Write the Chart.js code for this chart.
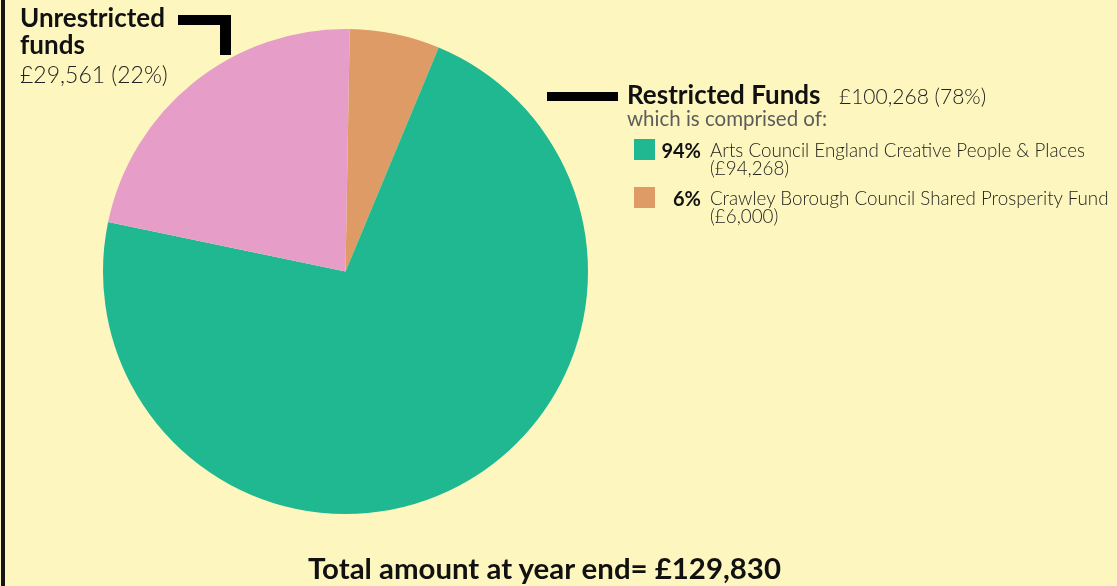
<!DOCTYPE html>
<html>
<head>
<meta charset="utf-8">
<script src="https://cdn.jsdelivr.net/npm/chart.js@4"></script>
<style>
  html, body { margin: 0; padding: 0; }
  body {
    width: 1117px; height: 586px; overflow: hidden; position: relative;
    background: #fdf7bf; font-family: Lato, "Open Sans", sans-serif; color: #111;
  }
  #wrap { position: absolute; left: 0; top: 0; width: 1117px; height: 586px; }
  .abs { position: absolute; white-space: nowrap; }
  .bar { position: absolute; background: #000; }
  .bold { font-weight: 700; }
  .light { font-weight: 300; }
</style>
</head>
<body>
<div id="wrap"><canvas id="pie" width="1117" height="586"></canvas></div>

<!-- left frame line -->
<div class="bar" style="left:1px;top:0;width:4px;height:586px;background:#151515"></div>

<!-- unrestricted label + bracket -->
<div class="abs bold" style="left:20px;top:4px;font-size:26px;line-height:27.3px">Unrestricted<br>funds</div>
<div class="abs light" id="unrestrictedAmt" style="left:20px;top:62.4px;font-size:23px;line-height:24px;color:#222"></div>
<div class="bar" style="left:178px;top:15px;width:53px;height:10px"></div>
<div class="bar" style="left:220px;top:15px;width:11px;height:40px"></div>

<!-- restricted label -->
<div class="bar" style="left:547px;top:92px;width:71px;height:9px"></div>
<div class="abs bold" style="left:627px;top:79px;font-size:26px;line-height:30px">Restricted Funds</div>
<div class="abs light" id="restrictedAmt" style="left:839px;top:81px;font-size:21px;line-height:30px;color:#222"></div>
<div class="abs" style="left:627px;top:106px;font-size:20.5px;line-height:24px;color:#5c5c5c">which is comprised of:</div>
<div id="legendRows"></div>

<!-- total -->
<div class="abs bold" id="totalTxt" style="left:0;width:1089px;text-align:center;top:550.9px;font-size:29.4px;line-height:34px"></div>

<script>
// Pie shares as drawn (clockwise from 12 o'clock)
const sliceLabels = ["Crawley Borough Council Shared Prosperity Fund", "Arts Council England Creative People & Places", "Unrestricted funds"];
const sliceShares = [6, 72, 22];
const sliceColors = ["#de9b66", "#1fb891", "#e69ec8"];

// Restricted breakdown (legend)
const restrictedNames = ["Arts Council England Creative People & Places", "Crawley Borough Council Shared Prosperity Fund"];
const restrictedPct = ["94%", "6%"];
const restrictedAmounts = ["(£94,268)", "(£6,000)"];
const restrictedColors = ["#1fb891", "#de9b66"];

const unrestrictedText = "£29,561 (22%)";
const restrictedText = "£100,268 (78%)";
const totalText = "Total amount at year end= £129,830";

document.getElementById("unrestrictedAmt").textContent = unrestrictedText;
document.getElementById("restrictedAmt").textContent = restrictedText;
document.getElementById("totalTxt").textContent = totalText;

// legend rows
const rowsEl = document.getElementById("legendRows");
restrictedNames.forEach((name, i) => {
  const rowTop = 139 + i * 48;
  const sq = document.createElement("div");
  sq.className = "bar";
  sq.style.cssText = `left:634px;top:${rowTop}px;width:21px;height:21px;background:${restrictedColors[i]}`;
  rowsEl.appendChild(sq);

  const pct = document.createElement("div");
  pct.className = "abs bold";
  pct.style.cssText = `left:640px;width:61px;text-align:right;top:${rowTop - 1}px;font-size:20px;line-height:24px`;
  pct.textContent = restrictedPct[i];
  rowsEl.appendChild(pct);

  const txt = document.createElement("div");
  txt.className = "abs light";
  txt.style.cssText = `left:710px;top:${rowTop + 2.4}px;font-size:18.8px;line-height:18px;color:#222`;
  txt.appendChild(document.createTextNode(name));
  txt.appendChild(document.createElement("br"));
  txt.appendChild(document.createTextNode(restrictedAmounts[i]));
  rowsEl.appendChild(txt);
});

const ctx = document.getElementById("pie").getContext("2d");
new Chart(ctx, {
  type: "pie",
  data: {
    labels: sliceLabels,
    datasets: [{
      data: sliceShares,
      backgroundColor: sliceColors,
      borderWidth: 0,
    }]
  },
  options: {
    responsive: false,
    animation: false,
    rotation: 1,
    layout: { padding: { left: 103, right: 529, top: 29, bottom: 72 } },
    plugins: {
      legend: { display: false },
      tooltip: { enabled: false }
    }
  }
});
</script>
</body>
</html>
